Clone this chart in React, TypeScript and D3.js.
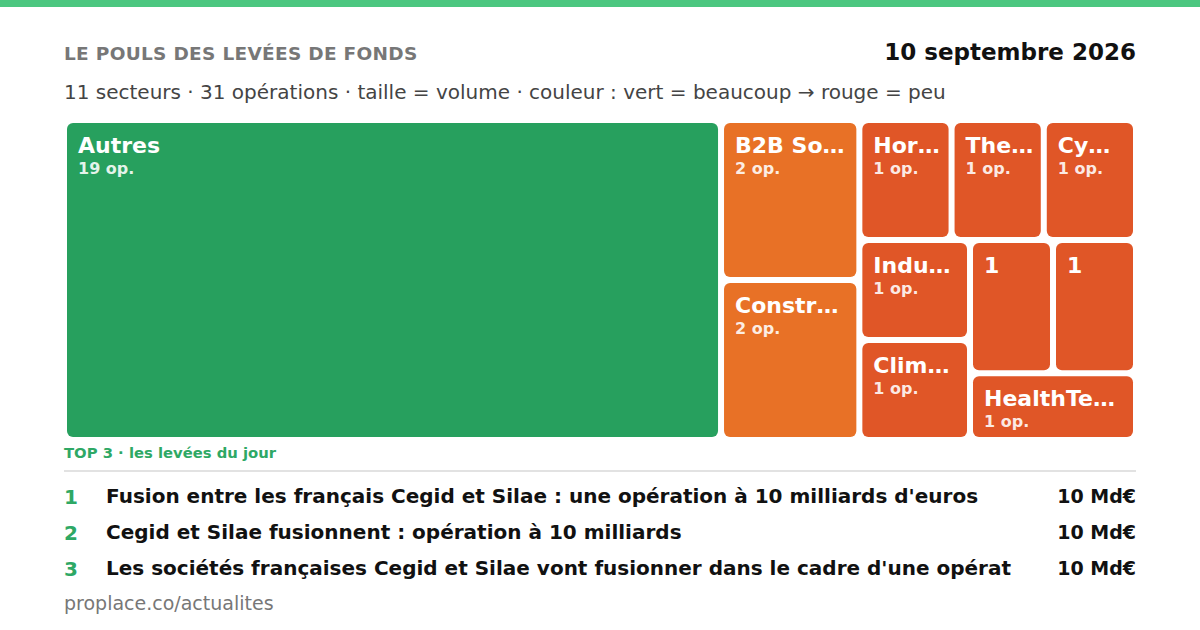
import React from "react";
import * as d3 from "d3";

const sectorLabels = ["Autres", "B2B So…", "Constr…", "Hor…", "The…", "Cy…", "Indu…", "Clim…", "1", "1", "HealthTe…"];
const sectorOps = [19, 2, 2, 1, 1, 1, 1, 1, 1, 1, 1];
const showSub = [true, true, true, true, true, true, true, true, false, false, true];

const topRanks = ["1", "2", "3"];
const topTitles = [
  "Fusion entre les français Cegid et Silae : une opération à 10 milliards d'euros",
  "Cegid et Silae fusionnent : opération à 10 milliards",
  "Les sociétés françaises Cegid et Silae vont fusionner dans le cadre d'une opérat",
];
const topAmounts = ["10 Md€", "10 Md€", "10 Md€"];

const W = 1200;
const H = 630;
const FONT = "'DejaVu Sans', sans-serif";

export default function App() {
  const data = sectorLabels.map((name, i) => ({ name, ops: sectorOps[i], sub: showSub[i], idx: i }));
  const root = d3
    .hierarchy<any>({ children: data })
    .sum((d: any) => d.ops || 0)
    .sort((a, b) => (b.value || 0) - (a.value || 0));
  const tm = d3.treemap<any>().size([1072, 320]).tile(d3.treemapSquarify.ratio(1)).round(false);
  tm(root);
  const leaves = root.leaves() as any[];
  const color = (ops: number) => (ops >= 10 ? "#27a05e" : ops >= 2 ? "#e87126" : "#e05627");
  const pad = 3;

  return (
    <svg width={W} height={H} style={{ display: "block", position: "absolute", left: 0, top: 0 }} fontFamily={FONT}>
      <rect x={0} y={0} width={W} height={H} fill="#ffffff" />
      <rect x={0} y={0} width={W} height={7} fill="#4cc780" />
      <text x={64} y={60} fontSize={18.5} fontWeight="bold" fill="#777777" letterSpacing={0.3}>
        LE POULS DES LEVÉES DE FONDS
      </text>
      <text x={1136} y={60} fontSize={23} fontWeight="bold" fill="#111111" textAnchor="end">
        10 septembre 2026
      </text>
      <text x={64} y={99} fontSize={20} fill="#444444">
        11 secteurs · 31 opérations · taille = volume · couleur : vert = beaucoup → rouge = peu
      </text>
      <g transform="translate(64,120)">
        {leaves.map((l, i) => {
          const x = l.x0 + pad;
          const y = l.y0 + pad;
          const w = l.x1 - l.x0 - 2 * pad;
          const h = l.y1 - l.y0 - 2 * pad;
          return (
            <g key={i}>
              <rect x={x} y={y} width={w} height={h} rx={6} ry={6} fill={color(l.data.ops)} />
              <text x={x + 11} y={y + 30} fontSize={22} fontWeight="bold" fill="#ffffff">
                {l.data.name}
              </text>
              {l.data.sub && (
                <text x={x + 11} y={y + 51} fontSize={16} fontWeight="bold" fill="#ffffff" fillOpacity={0.88}>
                  {l.data.ops} op.
                </text>
              )}
            </g>
          );
        })}
      </g>
      <text x={64} y={458} fontSize={14.8} fontWeight="bold" fill="#2ea865">
        TOP 3 · les levées du jour
      </text>
      <line x1={64} x2={1136} y1={471} y2={471} stroke="#e2e2e2" strokeWidth={2} />
      {topRanks.map((r, i) => (
        <g key={i}>
          <text x={64} y={504 + i * 36} fontSize={20} fontWeight="bold" fill="#2ea865">
            {r}
          </text>
          <text x={106} y={503 + i * 36} fontSize={20} fontWeight="bold" fill="#111111">
            {topTitles[i]}
          </text>
          <text x={1136} y={503 + i * 36} fontSize={19} fontWeight="bold" fill="#111111" textAnchor="end">
            {topAmounts[i]}
          </text>
        </g>
      ))}
      <text x={64} y={610} fontSize={19} fill="#777777">
        proplace.co/actualites
      </text>
    </svg>
  );
}
